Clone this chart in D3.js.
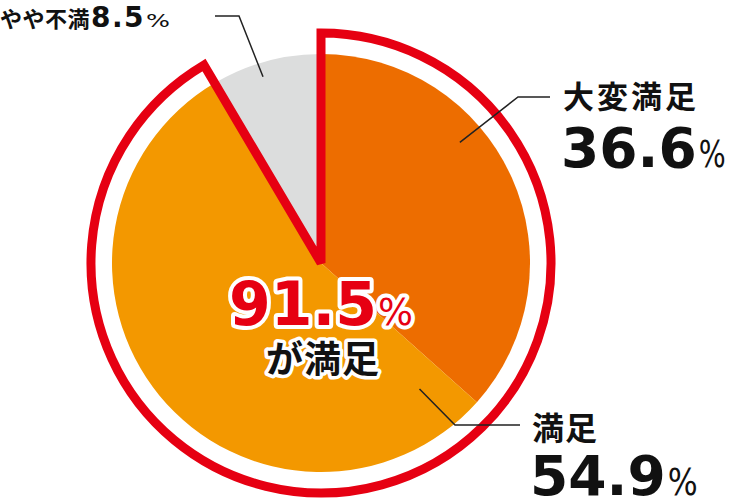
<!DOCTYPE html>
<html>
<head>
<meta charset="utf-8">
<script src="https://cdn.jsdelivr.net/npm/d3@7"></script>
<style>
  html, body { margin: 0; padding: 0; background: #fff; }
  svg { display: block; }
  .jp { font-family: "Noto Sans CJK JP", "Noto Sans", sans-serif; font-weight: 700; }
  .num { font-family: "DejaVu Sans", "Liberation Sans", sans-serif; font-weight: 700; }
  .pct { font-family: "DejaVu Sans", "Liberation Sans", sans-serif; font-weight: 400; }
  .leader { fill: none; stroke: #222; stroke-width: 1.5; }
</style>
</head>
<body>
<svg id="chart" width="733" height="500"></svg>
<script>
// Chart data
var categories = ['大変満足', '満足', 'やや不満'];
var values = [36.6, 54.9, 8.5];
var colors = ['#ED6D00', '#F39800', '#DCDDDD'];
var satisfiedLabel = 'が満足';

var CX = 321, CY = 263, R = 209, RING = 230;

var svg = d3.select('#chart');
var g = svg.append('g').attr('transform', 'translate(' + CX + ',' + CY + ')');

var pie = d3.pie().sort(null).value(function(d) { return d; });
var arcs = pie(values);
var arc = d3.arc().innerRadius(0).outerRadius(R);

g.selectAll('path.slice').data(arcs).join('path')
  .attr('class', 'slice')
  .attr('d', arc)
  .attr('fill', function(d, i) { return colors[i]; });

// red outline around the satisfied part (大変満足 + 満足)
var satisfied = values[0] + values[1];
var total = d3.sum(values);
g.append('path')
  .attr('d', d3.arc().innerRadius(0).outerRadius(RING)({ startAngle: 0, endAngle: satisfied / total * 2 * Math.PI }))
  .attr('fill', 'none')
  .attr('stroke', '#E60012')
  .attr('stroke-width', 9)
  .attr('stroke-linejoin', 'miter')
  .attr('stroke-miterlimit', 2.5);

// leader lines: start inside the slice, elbow, then horizontal run to the label
var leaders = [
  { angle: 49, r: 184, elbow: [518, 97], end: [550, 97] },
  { angle: 142, r: 160, elbow: [455, 425], end: [520, 425] },
  { angle: 342.7, r: 195, elbow: [239, 16], end: [215, 16] }
];
leaders.forEach(function(l) {
  var p = d3.pointRadial(l.angle * Math.PI / 180, l.r);
  svg.append('path').attr('class', 'leader')
    .attr('d', d3.line()([[CX + p[0], CY + p[1]], l.elbow, l.end]));
});

// labels
function label(x, yName, yNum, name, val, o) {
  svg.append('text').attr('class', 'jp')
    .attr('x', x + 2).attr('y', yName)
    .attr('font-size', o.nameSize).attr('letter-spacing', o.spacing || 0)
    .attr('fill', '#111').text(name);
  var num = svg.append('text').attr('class', 'num')
    .attr('x', x).attr('y', yNum)
    .attr('font-size', o.numSize)
    .attr('fill', '#111').text(val.toFixed(1));
  var w = num.node().getComputedTextLength();
  svg.append('text').attr('class', 'pct')
    .attr('x', x + w + 2).attr('y', yNum)
    .attr('font-size', o.pctSize)
    .attr('textLength', o.pctLen).attr('lengthAdjust', 'spacingAndGlyphs')
    .attr('fill', '#111').text('%');
}

label(561, 108, 167, categories[0], values[0], { nameSize: 31, spacing: 3, numSize: 55, pctSize: 37, pctLen: 27 });
label(530, 440, 495, categories[1], values[1], { nameSize: 32, spacing: 1, numSize: 55, pctSize: 37, pctLen: 30 });

// top-left small label on one line
svg.append('text').attr('class', 'jp')
  .attr('x', 0).attr('y', 27).attr('font-size', 22).attr('letter-spacing', 0.5)
  .attr('fill', '#111').text(categories[2]);
var small = svg.append('text').attr('class', 'num')
  .attr('x', 91).attr('y', 27).attr('font-size', 28).attr('letter-spacing', 1.5)
  .attr('fill', '#111').text(values[2].toFixed(1));
var sw = small.node().getComputedTextLength();
svg.append('text').attr('class', 'pct')
  .attr('x', 91 + sw + 1).attr('y', 27).attr('font-size', 18)
  .attr('textLength', 24).attr('lengthAdjust', 'spacingAndGlyphs')
  .attr('fill', '#111').text('%');

// centre callout
function halo(sel, w) {
  return sel.attr('stroke', '#fff').attr('stroke-width', w)
    .attr('stroke-linejoin', 'round').attr('paint-order', 'stroke');
}
var big = halo(svg.append('text').attr('class', 'num')
  .attr('x', 229).attr('y', 325).attr('font-size', 60)
  .attr('fill', '#E60012'), 8)
  .text(satisfied.toFixed(1));
var bw = big.node().getComputedTextLength();
halo(svg.append('text').attr('class', 'pct')
  .attr('x', 229 + bw + 1).attr('y', 325).attr('font-size', 37)
  .attr('font-weight', 700)
  .attr('textLength', 35).attr('lengthAdjust', 'spacingAndGlyphs')
  .attr('fill', '#E60012'), 8)
  .text('%');
halo(svg.append('text').attr('class', 'jp')
  .attr('x', 266).attr('y', 373).attr('font-size', 37).attr('letter-spacing', 1)
  .attr('fill', '#111'), 7)
  .text(satisfiedLabel);
</script>
</body>
</html>
